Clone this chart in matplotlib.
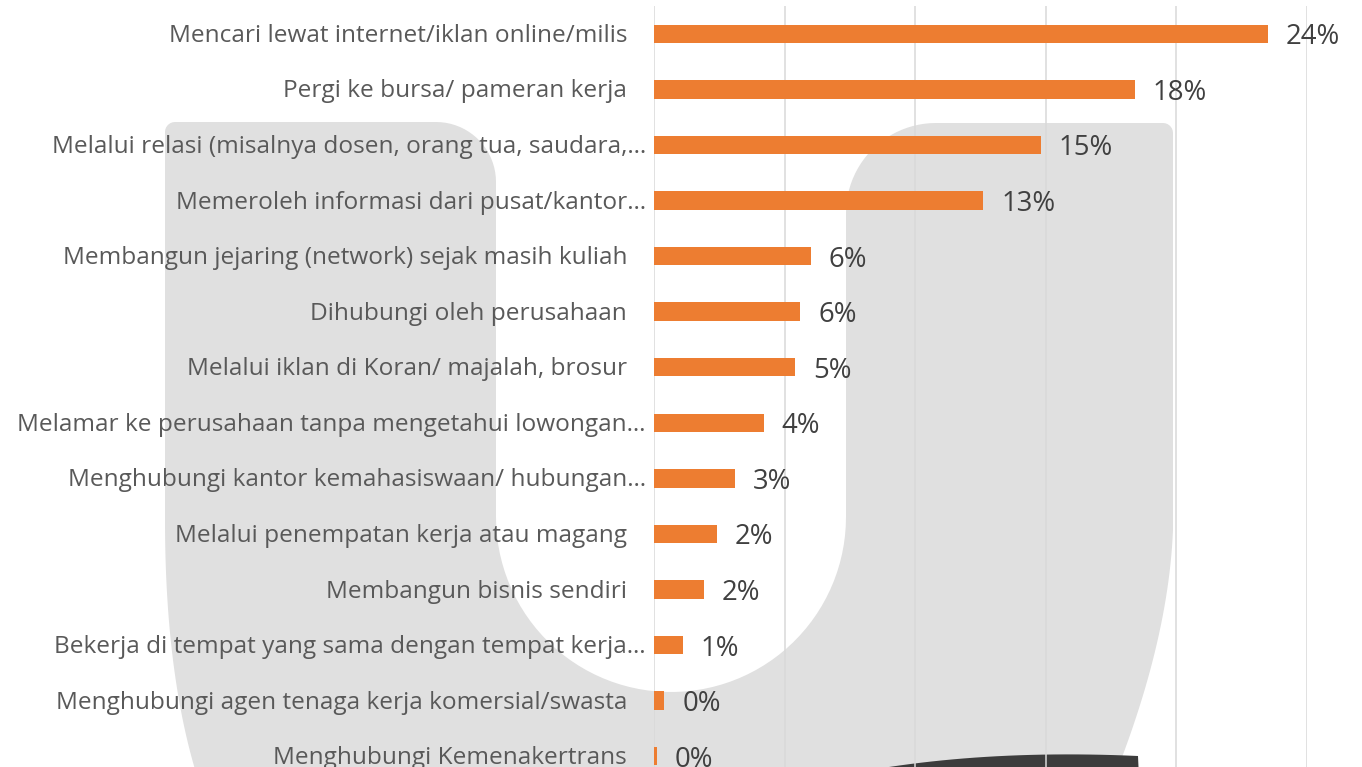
import numpy as np
import matplotlib.pyplot as plt
from matplotlib.patches import Polygon

# Data (top to bottom)
categories = [
    "Mencari lewat internet/iklan online/milis",
    "Pergi ke bursa/ pameran kerja",
    "Melalui relasi (misalnya dosen, orang tua, saudara,…",
    "Memeroleh informasi dari pusat/kantor…",
    "Membangun jejaring (network) sejak masih kuliah",
    "Dihubungi oleh perusahaan",
    "Melalui iklan di Koran/ majalah, brosur",
    "Melamar ke perusahaan tanpa mengetahui lowongan…",
    "Menghubungi kantor kemahasiswaan/ hubungan…",
    "Melalui penempatan kerja atau magang",
    "Membangun bisnis sendiri",
    "Bekerja di tempat yang sama dengan tempat kerja…",
    "Menghubungi agen tenaga kerja komersial/swasta",
    "Menghubungi Kemenakertrans",
]
values = [23.5, 18.4, 14.8, 12.6, 6.0, 5.6, 5.4, 4.2, 3.1, 2.4, 1.9, 1.1, 0.4, 0.1]
xticks = [0, 5, 10, 15, 20, 25]

BAR = "#ED7D31"
W, H = 1362, 767

fig = plt.figure(figsize=(W / 100, H / 100), dpi=100)
fig.patch.set_facecolor("white")

# background watermark (pixel coordinates)
bg = fig.add_axes([0, 0, 1, 1], zorder=-1)
bg.set_xlim(0, W)
bg.set_ylim(H, 0)
bg.axis("off")


def arc(cx, cy, r, a0, a1, n=30):
    t = np.radians(np.linspace(a0, a1, n))
    return list(zip(cx + r * np.cos(t), cy + r * np.sin(t)))


def quad(p0, p1, p2, n=30):
    t = np.linspace(0, 1, n)[:, None]
    p0, p1, p2 = map(np.array, (p0, p1, p2))
    pts = (1 - t) ** 2 * p0 + 2 * (1 - t) * t * p1 + t ** 2 * p2
    return [tuple(p) for p in pts]


u = []
u += quad((205, 800), (165, 690), (165, 520))
u += arc(175, 132, 10, 180, 270, 8)
u += arc(436, 182, 60, 270, 360, 20)
u += arc(671, 517, 175, 180, 0, 60)
u += arc(936, 213, 90, 180, 270, 25)
u += arc(1163, 133, 10, 270, 360, 8)
u += quad((1173, 530), (1168, 650), (1105, 800))
bg.add_patch(Polygon(u, closed=True, facecolor="#E0E0E0", edgecolor="none"))

sw = quad((820, 780), (960, 748), (1138, 756)) + [(1140, 800), (820, 800)]
bg.add_patch(Polygon(sw, closed=True, facecolor="#3C3C3C", edgecolor="none"))

# main chart
ax = fig.add_axes([654 / W, 1 - 784 / H, (1307 - 654) / W, (784 - 6) / H])
ax.set_facecolor("none")

y = np.arange(len(categories))
ax.barh(y, values, height=0.33, color=BAR, zorder=3)
ax.set_xlim(0, 25)
ax.set_ylim(len(categories) - 0.5, -0.5)

ax.set_xticks(xticks)
ax.set_xticklabels([])
ax.set_yticks([])
ax.tick_params(length=0)
ax.grid(axis="x", color="#D9D9D9", linewidth=1.1, zorder=0)
for s in ax.spines.values():
    s.set_visible(False)

for i, (cat, v) in enumerate(zip(categories, values)):
    pad = 5.8 if cat.endswith("…") else 19.4
    ax.annotate(cat, xy=(0, i), xytext=(-pad, -1.5), textcoords="offset points",
                ha="right", va="center", fontsize=17.6, family="Open Sans",
                color="#595959", annotation_clip=False)
    ax.annotate(f"{v:.0f}%", xy=(v, i), xytext=(13, -2.5), textcoords="offset points",
                ha="left", va="center", fontsize=19.8, family="Open Sans",
                color="#404040", annotation_clip=False)

fig.savefig("out.png", dpi=100)
